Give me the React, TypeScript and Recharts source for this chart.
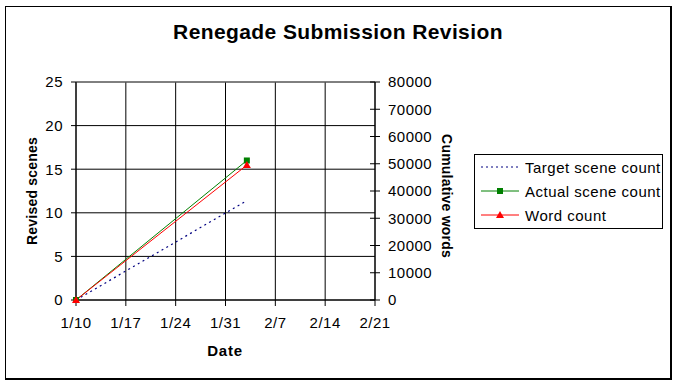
import { ComposedChart, Line, XAxis, YAxis, CartesianGrid, ReferenceLine } from 'recharts';

// days counted from 1/10
const days = [0, 24];
const targetScenes = [0, 11.4];
const actualScenes = [0, 16];
const wordCount = [0, 49500];

const tickDays = [0, 7, 14, 21, 28, 35, 42];
const tickLabels = ['1/10', '1/17', '1/24', '1/31', '2/7', '2/14', '2/21'];
const leftTicks = [0, 5, 10, 15, 20, 25];
const rightTicks = [0, 10000, 20000, 30000, 40000, 50000, 60000, 70000, 80000];

const data = days.map((d, i) => ({
  day: d,
  target: targetScenes[i],
  actual: actualScenes[i],
  words: wordCount[i],
}));

const FONT = '"Liberation Sans", Arial, sans-serif';
const tickStyle = { fill: '#000', fontSize: 15, fontFamily: FONT, letterSpacing: 0.5 };

const SquareDot = (props: any) => {
  const { cx, cy } = props;
  if (cx == null || cy == null) return null;
  return <rect x={cx - 3} y={cy - 3} width={6} height={6} fill="#008000" />;
};

const TriangleDot = (props: any) => {
  const { cx, cy } = props;
  if (cx == null || cy == null) return null;
  return <polygon points={`${cx},${cy - 4} ${cx + 4},${cy + 3} ${cx - 4},${cy + 3}`} fill="#ff0000" />;
};

const RightTick = (props: any) => {
  const { x, y, payload } = props;
  const axisX = x - 13;
  return (
    <g>
      <line x1={axisX - 5} x2={axisX + 5} y1={y} y2={y} stroke="#000" />
      <text x={x} y={y} dy="0.35em" textAnchor="start" fontSize={15} letterSpacing={0.5} fill="#000" fontFamily={FONT}>
        {payload.value}
      </text>
    </g>
  );
};

function LegendBox() {
  const items = [
    { label: 'Target scene count', color: '#000080', dash: '2 3', marker: null },
    { label: 'Actual scene count', color: '#008000', dash: undefined, marker: 'square' },
    { label: 'Word count', color: '#ff0000', dash: undefined, marker: 'triangle' },
  ];
  return (
    <div
      style={{
        position: 'absolute', left: 474, top: 154, width: 187, height: 73,
        border: '1px solid #000', background: '#fff', fontFamily: FONT, fontSize: 15, letterSpacing: 0.5,
      }}
    >
      {items.map((it, i) => (
        <div key={i} style={{ position: 'absolute', left: 5, top: 2 + i * 24, height: 20, display: 'flex', alignItems: 'center', whiteSpace: 'nowrap' }}>
          <svg width={40} height={20}>
            <line x1={1} x2={39} y1={10} y2={10} stroke={it.color} strokeDasharray={it.dash} />
            {it.marker === 'square' && <rect x={17} y={7} width={6} height={6} fill={it.color} />}
            {it.marker === 'triangle' && <polygon points="20,6 24,13 16,13" fill={it.color} />}
          </svg>
          <span style={{ marginLeft: 5 }}>{it.label}</span>
        </div>
      ))}
    </div>
  );
}

export default function App() {
  return (
    <div style={{ position: 'absolute', left: 0, top: 0, width: 676, height: 384, background: '#fff', fontFamily: FONT }}>
      <ComposedChart
        width={676}
        height={384}
        data={data}
        margin={{ top: 82, right: 211, bottom: 54, left: 0 }}
      >
        <CartesianGrid yAxisId="left" stroke="#000" strokeOpacity={1} />
        <XAxis
          type="number"
          dataKey="day"
          domain={[0, 42]}
          ticks={tickDays}
          tickFormatter={(v: number) => tickLabels[tickDays.indexOf(v)] ?? ''}
          height={30}
          tickSize={6}
          tickMargin={11}
          stroke="#000"
          tick={tickStyle}
        />
        <YAxis
          yAxisId="left"
          domain={[0, 25]}
          ticks={leftTicks}
          width={76}
          tickSize={5}
          tickMargin={8}
          stroke="#000"
          tick={tickStyle}
        />
        <YAxis
          yAxisId="right"
          orientation="right"
          domain={[0, 80000]}
          ticks={rightTicks}
          width={90}
          tickSize={5}
          tickMargin={8}
          tickLine={false}
          stroke="#000"
          tick={<RightTick />}
        />
        <ReferenceLine yAxisId="left" y={25} stroke="#808080" />
        <Line
          yAxisId="left"
          dataKey="target"
          stroke="#000080"
          strokeWidth={1.2}
          strokeDasharray="2 3.5"
          dot={false}
          isAnimationActive={false}
        />
        <Line
          yAxisId="left"
          dataKey="actual"
          stroke="#008000"
          strokeWidth={1}
          dot={<SquareDot />}
          isAnimationActive={false}
        />
        <Line
          yAxisId="right"
          dataKey="words"
          stroke="#ff0000"
          strokeWidth={1}
          dot={<TriangleDot />}
          isAnimationActive={false}
        />
      </ComposedChart>

      <div style={{ position: 'absolute', left: 0, top: 20, width: 676, textAlign: 'center', fontSize: 21, fontWeight: 'bold', letterSpacing: 0.4 }}>
        Renegade Submission Revision
      </div>
      <div style={{ position: 'absolute', left: 175, top: 342, width: 100, textAlign: 'center', fontSize: 15, fontWeight: 'bold', letterSpacing: 0.8 }}>
        Date
      </div>
      <div
        style={{
          position: 'absolute', left: 32, top: 191, width: 200, marginLeft: -100, marginTop: -9, height: 18,
          textAlign: 'center', fontSize: 14, fontWeight: 'bold', letterSpacing: 0.2, transform: 'rotate(-90deg)', lineHeight: '18px',
        }}
      >
        Revised scenes
      </div>
      <div
        style={{
          position: 'absolute', left: 447, top: 196, width: 200, marginLeft: -100, marginTop: -9, height: 18,
          textAlign: 'center', fontSize: 14, fontWeight: 'bold', letterSpacing: 0.2, transform: 'rotate(90deg)', lineHeight: '18px',
        }}
      >
        Cumulative words
      </div>
      <LegendBox />
      <div
        style={{
          position: 'absolute', left: 5, top: 6, width: 664, height: 371,
          borderTop: '1px solid #000', borderLeft: '1px solid #000', borderRight: '2px solid #000', borderBottom: '2px solid #000',
          pointerEvents: 'none',
        }}
      />
    </div>
  );
}
